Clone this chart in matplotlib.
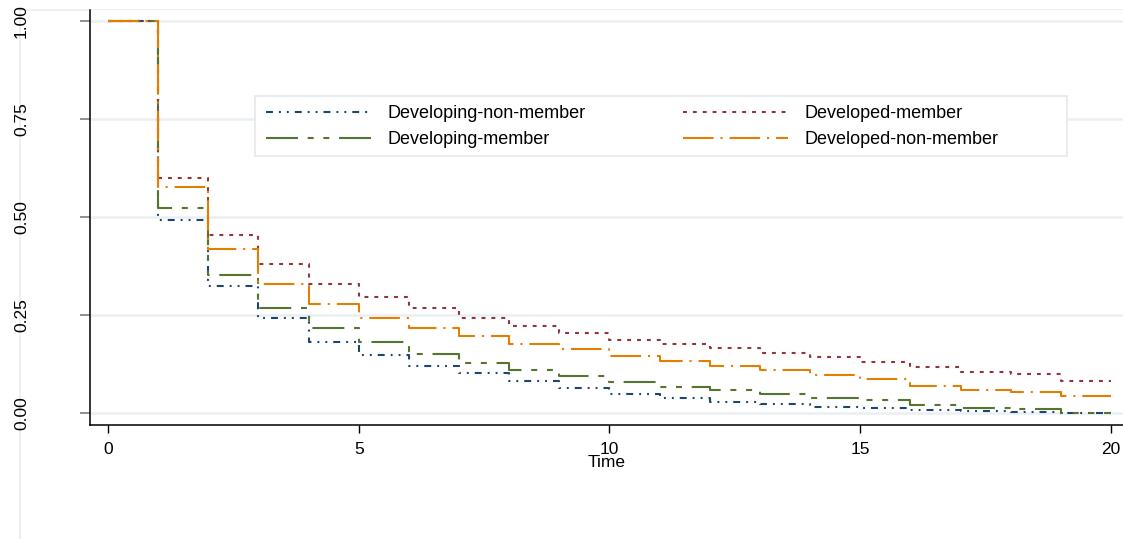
import matplotlib
matplotlib.use("Agg")
import matplotlib.pyplot as plt
from matplotlib.lines import Line2D
from matplotlib.patches import Rectangle
from matplotlib import font_manager

plt.rcParams['lines.scale_dashes'] = False

names = {f.name for f in font_manager.fontManager.ttflist}
NARROW = 'Liberation Sans Narrow' if 'Liberation Sans Narrow' in names else 'Liberation Sans'
plt.rcParams['font.family'] = ['Liberation Sans', 'DejaVu Sans']

# ---- data ----
time = list(range(0, 21))
developing_non_member = [1.0, 0.492, 0.323, 0.242, 0.182, 0.148, 0.121, 0.101, 0.082, 0.065,
                         0.049, 0.039, 0.029, 0.023, 0.016, 0.012, 0.007, 0.006, 0.003, 0.001, 0.001]
developed_member = [1.0, 0.599, 0.454, 0.379, 0.330, 0.295, 0.267, 0.243, 0.221, 0.204,
                    0.187, 0.176, 0.165, 0.152, 0.142, 0.131, 0.117, 0.105, 0.099, 0.081, 0.081]
developing_member = [1.0, 0.522, 0.352, 0.267, 0.216, 0.181, 0.150, 0.128, 0.110, 0.094,
                     0.080, 0.067, 0.058, 0.048, 0.039, 0.032, 0.020, 0.013, 0.011, 0.001, 0.001]
developed_non_member = [1.0, 0.577, 0.418, 0.330, 0.277, 0.242, 0.216, 0.196, 0.177, 0.162,
                        0.145, 0.133, 0.120, 0.110, 0.097, 0.086, 0.068, 0.059, 0.054, 0.043, 0.043]
labels = ['Developing-non-member', 'Developed-member', 'Developing-member', 'Developed-non-member']
x_ticks = [0, 5, 10, 15, 20]
y_ticks = [0.0, 0.25, 0.5, 0.75, 1.0]
y_ticklabels = ['0.00', '0.25', '0.50', '0.75', '1.00']

series = [developing_non_member, developed_member, developing_member, developed_non_member]
colors = ['#1a476f', '#90353b', '#55752f', '#e37e00']
dashes = [(5, 4.3, 1.4, 4.3, 1.4, 4.3),
          (2.8, 4.3),
          (23, 7, 4.3, 7, 4.3, 7),
          (22, 5, 1.5, 5)]

fig = plt.figure(figsize=(11.23, 5.39), dpi=100)
W, H = 1123, 539
ax = fig.add_axes([90 / W, (H - 425) / H, 1 - 90 / W, 415 / H])

handles = []
for ys, c, d, lab in zip(series, colors, dashes, labels):
    ln, = ax.step(time, ys, where='post', color=c, lw=1.5, dashes=d, label=lab, zorder=3)
    handles.append(ln)

ax.set_xlim(-0.359, 20.24)
ax.set_ylim(-0.0306, 1.028)

ax.set_yticks(y_ticks)
ax.set_yticklabels(y_ticklabels, rotation=90, va='center', ha='right',
                   family=[NARROW, 'Liberation Sans'], fontsize=12.5)
ax.set_xticks(x_ticks)
ax.set_xticklabels([str(t) for t in x_ticks], fontsize=12.5)

ax.grid(axis='y', color='#eaf0f2', lw=1.8, zorder=0)
ax.tick_params(axis='y', length=7, width=1.3, color='#888888', pad=37)
ax.tick_params(axis='x', length=5.5, width=1.0, color='black', pad=6.5)
for s in ['top', 'right']:
    ax.spines[s].set_visible(False)
for s in ['left', 'bottom']:
    ax.spines[s].set_linewidth(1.1)
    ax.spines[s].set_color('black')

ax.set_xlabel('Time', fontsize=12.5, labelpad=-1)

# faint outer region border
fig.add_artist(Line2D([20 / W, 20 / W], [0, 1 - 10 / H], transform=fig.transFigure,
                      color='#e8eef0', lw=1.2, zorder=0))
fig.add_artist(Line2D([20 / W, 1], [1 - 10 / H, 1 - 10 / H], transform=fig.transFigure,
                      color='#e8eef0', lw=1.2, zorder=0))

# legend frame
fig.add_artist(Rectangle((255 / W, 1 - 156 / H), (1067 - 255) / W, 60 / H,
                         transform=fig.transFigure, facecolor='white',
                         edgecolor='#e3eaec', lw=1.2, zorder=4))

common = dict(loc='upper left', bbox_transform=fig.transFigure, borderaxespad=0,
              fontsize=13, handlelength=105 / 18.06, handletextpad=17 / 18.06,
              labelspacing=0.52, borderpad=0, frameon=False)
leg1 = fig.legend([handles[0], handles[2]], [labels[0], labels[2]],
                  bbox_to_anchor=(266 / W, 1 - 105 / H), **common)
leg2 = fig.legend([handles[1], handles[3]], [labels[1], labels[3]],
                  bbox_to_anchor=(683 / W, 1 - 105 / H), **common)
leg1.set_zorder(5)
leg2.set_zorder(5)

fig.savefig('out.png', dpi=100)
